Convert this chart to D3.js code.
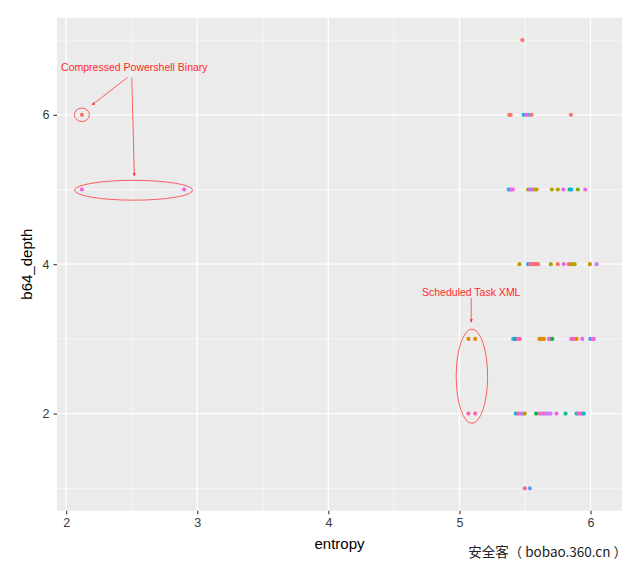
<!DOCTYPE html>
<html>
<head>
<meta charset="utf-8">
<script src="https://cdn.jsdelivr.net/npm/d3@7"></script>
<style>
  html, body { margin: 0; padding: 0; background: #fff; }
  svg { display: block; }
</style>
</head>
<body>
<svg id="chart" width="640" height="569"></svg>
<script>
// ---------------- data ----------------
const categories = ["c01","c02","c03","c04","c05","c06","c07","c08","c09","c10","c11","c12"];
const palette = ["#F8766D","#DE8C00","#B79F00","#7CAE00","#00BA38","#00C08B","#00BFC4","#00B4F0","#619CFF","#C77CFF","#F564E3","#FF64B0"];

// each point: [entropy, b64_depth, category index]
const depth7 = [[5.48,7,0]];
const depth6 = [[2.12,6,0],[5.38,6,0],[5.39,6,0],[5.49,6,7],[5.51,6,10],[5.53,6,8],[5.55,6,0],[5.85,6,0]];
const depth5 = [[2.12,5,10],[2.90,5,10],[5.376,5,7],[5.387,5,8],[5.397,5,10],[5.407,5,10],[5.524,5,2],[5.537,5,10],
                [5.547,5,8],[5.56,5,10],[5.575,5,2],[5.588,5,2],[5.705,5,2],[5.75,5,2],[5.792,5,10],[5.84,5,5],
                [5.853,5,7],[5.903,5,3],[5.96,5,10]];
const depth4 = [[5.458,4,2],[5.524,4,7],[5.54,4,0],[5.552,4,11],[5.565,4,0],[5.578,4,11],[5.59,4,0],[5.6,4,0],
                [5.697,4,2],[5.75,4,0],[5.796,4,10],[5.834,4,0],[5.853,4,2],[5.878,4,2],[5.995,4,2],[6.046,4,9]];
const depth3 = [[5.069,3,1],[5.12,3,1],[5.41,3,8],[5.42,3,7],[5.433,3,4],[5.445,3,10],[5.46,3,11],[5.61,3,1],
                [5.62,3,1],[5.634,3,1],[5.644,3,1],[5.682,3,10],[5.695,3,10],[5.708,3,4],[5.853,3,10],[5.865,3,11],
                [5.878,3,10],[5.893,3,1],[5.937,3,10],[5.998,3,7],[6.013,3,10],[6.025,3,10]];
const depth2 = [[5.069,2,11],[5.12,2,11],[5.43,2,6],[5.448,2,11],[5.466,2,9],[5.481,2,9],[5.498,2,2],[5.585,2,4],
                [5.613,2,11],[5.631,2,9],[5.647,2,11],[5.664,2,9],[5.679,2,9],[5.695,2,9],[5.74,2,10],[5.809,2,5],
                [5.893,2,6],[5.908,2,11],[5.92,2,11],[5.937,2,10],[5.949,2,6]];
const depth1 = [[5.498,1,11],[5.537,1,8]];

const xTicks = [2,3,4,5,6];
const xMinor = [2.5,3.5,4.5,5.5];
const yTicks = [2,4,6];
const yMinor = [1,3,5,7];
const xDomain = [1.93, 6.24];
const yDomain = [0.7, 7.3];

// annotations (data units)
const labels = [
  {text:"Compressed Powershell Binary", x:2.52, y:6.64},
  {text:"Scheduled Task XML", x:5.09, y:3.63}
];
const ellipses = [
  {cx:2.12, cy:6.0, rx:0.057, ry:0.09},
  {cx:2.514, cy:4.99, rx:0.45, ry:0.133},
  {cx:5.095, cy:2.5, rx:0.12, ry:0.63}
];
const arrows = [
  {x1:2.468, y1:6.50, x2:2.196, y2:6.13},
  {x1:2.50, y1:6.50, x2:2.52, y2:5.18},
  {x1:5.09, y1:3.55, x2:5.09, y2:3.22}
];

// ---------------- chart ----------------
const points = [].concat(depth7, depth6, depth5, depth4, depth3, depth2, depth1)
  .map(d => ({entropy:d[0], depth:d[1], cat:categories[d[2]]}));

const svg = d3.select("#chart");
const P = {left:57, right:622, top:17.7, bottom:510.7};

const x = d3.scaleLinear().domain(xDomain).range([P.left, P.right]);
const y = d3.scaleLinear().domain(yDomain).range([P.bottom, P.top]);
const color = d3.scaleOrdinal().domain(categories).range(palette);

svg.append("rect").attr("x", P.left).attr("y", P.top)
  .attr("width", P.right - P.left).attr("height", P.bottom - P.top).attr("fill", "#EBEBEB");

const grid = svg.append("g");
grid.selectAll(".xmin").data(xMinor).join("line")
  .attr("x1", d => x(d)).attr("x2", d => x(d)).attr("y1", P.top).attr("y2", P.bottom)
  .attr("stroke", "#fff").attr("stroke-width", 0.6);
grid.selectAll(".ymin").data(yMinor).join("line")
  .attr("y1", d => y(d)).attr("y2", d => y(d)).attr("x1", P.left).attr("x2", P.right)
  .attr("stroke", "#fff").attr("stroke-width", 0.6);
grid.selectAll(".xmaj").data(xTicks).join("line")
  .attr("x1", d => x(d)).attr("x2", d => x(d)).attr("y1", P.top).attr("y2", P.bottom)
  .attr("stroke", "#fff").attr("stroke-width", 1.3);
grid.selectAll(".ymaj").data(yTicks).join("line")
  .attr("y1", d => y(d)).attr("y2", d => y(d)).attr("x1", P.left).attr("x2", P.right)
  .attr("stroke", "#fff").attr("stroke-width", 1.3);

// axes
const font = "'Liberation Sans', Arial, Helvetica, sans-serif";
const xAxis = svg.append("g").attr("transform", `translate(0,${P.bottom})`)
  .call(d3.axisBottom(x).tickValues(xTicks).tickFormat(d3.format("d")).tickSize(3.5).tickPadding(4));
const yAxis = svg.append("g").attr("transform", `translate(${P.left},0)`)
  .call(d3.axisLeft(y).tickValues(yTicks).tickFormat(d3.format("d")).tickSize(3.5).tickPadding(4));
[xAxis, yAxis].forEach(a => {
  a.select(".domain").remove();
  a.selectAll(".tick line").attr("stroke", "#333").attr("stroke-width", 1.1);
  a.selectAll(".tick text").attr("fill", "#3A3A3A").style("font-family", font).style("font-size", "12.5px");
});

svg.append("text").attr("x", (P.left + P.right) / 2).attr("y", 549)
  .attr("text-anchor", "middle").style("font-family", font).style("font-size", "15px")
  .attr("fill", "#000").text("entropy");
svg.append("text").attr("transform", `translate(32,${(P.top + P.bottom) / 2}) rotate(-90)`)
  .attr("text-anchor", "middle").style("font-family", font).style("font-size", "15px")
  .attr("fill", "#000").text("b64_depth");

// points
svg.append("g").selectAll("circle").data(points).join("circle")
  .attr("cx", d => x(d.entropy)).attr("cy", d => y(d.depth)).attr("r", 2.1)
  .attr("fill", d => color(d.cat));

// annotations
const ann = svg.append("g");
svg.append("defs").append("marker").attr("id", "ah")
  .attr("viewBox", "0 0 10 10").attr("refX", 10).attr("refY", 5)
  .attr("markerWidth", 4).attr("markerHeight", 4).attr("orient", "auto")
  .append("path").attr("d", "M0,0 L10,5 L0,10 z").attr("fill", "#FF2A2A");
ann.selectAll("ellipse").data(ellipses).join("ellipse")
  .attr("cx", d => x(d.cx)).attr("cy", d => y(d.cy))
  .attr("rx", d => x(d.cx + d.rx) - x(d.cx)).attr("ry", d => y(d.cy) - y(d.cy + d.ry))
  .attr("fill", "none").attr("stroke", "#FF3B3B").attr("stroke-width", 0.8);
ann.selectAll("line").data(arrows).join("line")
  .attr("x1", d => x(d.x1)).attr("y1", d => y(d.y1)).attr("x2", d => x(d.x2)).attr("y2", d => y(d.y2))
  .attr("stroke", "#FF3B3B").attr("stroke-width", 0.8).attr("marker-end", "url(#ah)");
ann.selectAll("text").data(labels).join("text")
  .attr("x", d => x(d.x)).attr("y", d => y(d.y)).attr("dy", "0.35em")
  .attr("text-anchor", "middle").style("font-family", font).style("font-size", "10.5px")
  .attr("fill", "#FF2A2A").text(d => d.text);

// watermark
svg.append("text").attr("x", 627).attr("y", 557).attr("text-anchor", "end")
  .style("font-family", "'Noto Sans CJK SC', 'Liberation Sans', sans-serif").style("font-size", "13.5px")
  .attr("fill", "#222").text("安全客（ bobao.360.cn ）");
</script>
</body>
</html>
